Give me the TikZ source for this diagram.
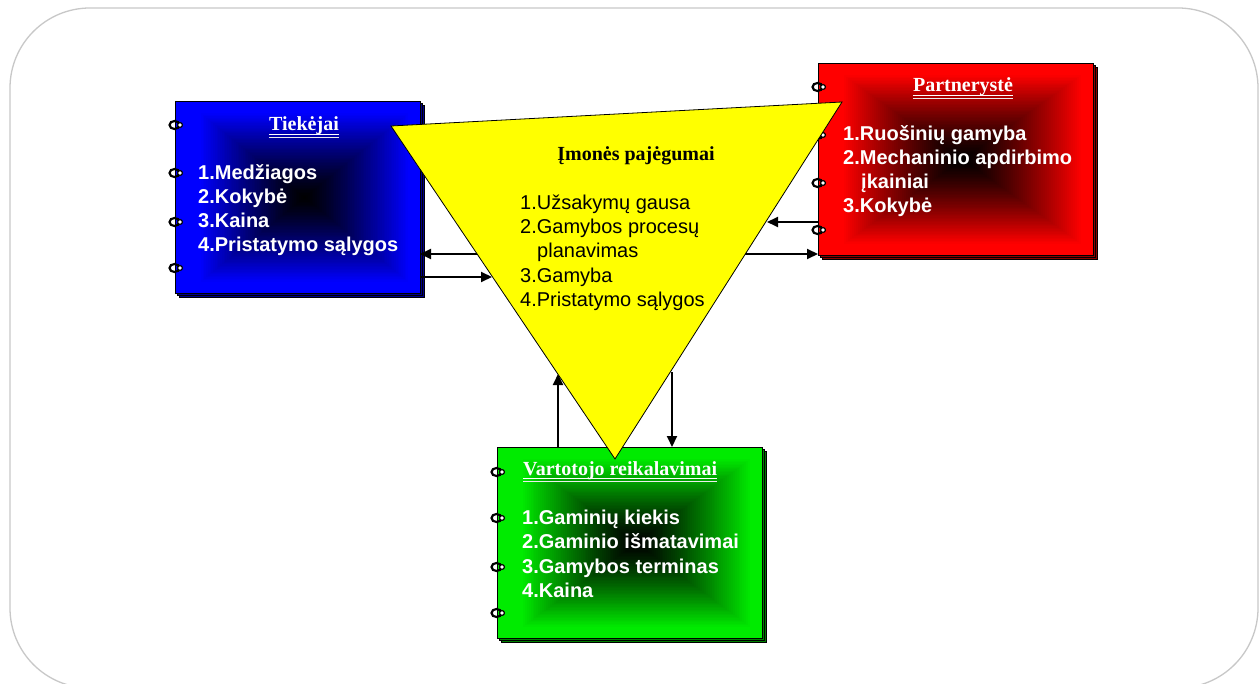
\documentclass[tikz,border=0pt]{standalone}
\usepackage{fontspec}
\setmainfont{Liberation Serif}
\setsansfont{Liberation Sans}
\usetikzlibrary{arrows.meta,calc}

\definecolor{nbblue}{RGB}{0,0,255}
\definecolor{nbred}{RGB}{255,0,0}
\definecolor{nbgreen}{RGB}{0,235,0}
\definecolor{triyellow}{RGB}{255,255,0}
\definecolor{framegray}{RGB}{200,200,200}

\tikzset{
  listtext/.style={font=\sffamily\bfseries\fontsize{20}{24}\selectfont, text=white, anchor=base west, inner sep=0pt},
  trilist/.style={font=\sffamily\fontsize{20}{24}\selectfont, text=black, anchor=base west, inner sep=0pt},
  nbtitle/.style={font=\bfseries\fontsize{20}{24}\selectfont, text=white, inner sep=0pt},
  arr/.style={line width=2pt, -{Triangle[length=11pt,width=10pt]}},
  ringstroke/.style={line width=2.2pt, black},
}

% A notebook card: stacked pages, outlined card and a rectangular
% path gradient from the card colour at the border to black at the centre.
% #1 name, #2 left, #3 top, #4 width, #5 height, #6 colour
\newcommand\notebookcard[6]{%
  \filldraw[fill=#6!55!black, draw=black, line width=0.6pt] (#2+4,#3+4) rectangle ++(#4,#5);
  \filldraw[fill=#6!55!black, draw=black, line width=0.6pt] (#2+2,#3+2) rectangle ++(#4,#5);
  \node[draw=black, line width=0.8pt, fill=#6, minimum width=#4pt, minimum height=#5pt,
        anchor=north west, inner sep=0pt, outer sep=0pt] (#1) at (#2,#3) {};
  \pgfmathsetmacro\gcx{#2+24+(#4-34)/2}
  \pgfmathsetmacro\gcy{#3+11+(#5-21)/2}
  \pgfmathsetmacro\ghw{(#4-34)/2}
  \pgfmathsetmacro\ghh{(#5-21)/2}
  \foreach \i in {0,...,60}{%
    \pgfmathsetmacro\gs{1-\i/60}%
    \pgfmathsetmacro\gp{100*(\gs^1.25)}%
    \fill[#6!\gp!black] (\gcx-\gs*\ghw,\gcy-\gs*\ghh) rectangle (\gcx+\gs*\ghw,\gcy+\gs*\ghh);
  }%
}

% binder ring on the left edge of a card
\newcommand\binderring[2]{%
  \draw[ringstroke] (#1-1.5,#2) ellipse (5pt and 4pt);
  \filldraw[fill=white, draw=black, line width=1.2pt] (#1+4,#2) circle (2.4pt);
}

\begin{document}
\begin{tikzpicture}[x=1pt, y=-1pt]
  \useasboundingbox (0,0) rectangle (1260,684);
  \fill[white] (0,0) rectangle (1260,684);

  % outer frame
  \draw[framegray, line width=1.3pt, rounded corners=80pt] (10,8) rectangle (1258,688);

  % cards
  \notebookcard{blue}{175}{101}{245}{192}{nbblue}
  \notebookcard{red}{818}{63}{275}{192}{nbred}
  \notebookcard{green}{497}{447}{265}{191}{nbgreen}

  % binder rings
  \foreach \yy in {125,173,222,268} {\binderring{176}{\yy}}
  \foreach \yy in {87,135,183,230} {\binderring{819}{\yy}}
  \foreach \yy in {472,518,567,613} {\binderring{498}{\yy}}

  % card titles
  \node[nbtitle, anchor=base] (blueT) at (304,131) {Tiekėjai};
  \node[nbtitle, anchor=base] (redT) at (963,92) {Partnerystė};
  \node[nbtitle, anchor=base west] (greenT) at (523,475) {Vartotojo reikalavimai};
  \foreach \t in {blueT,redT,greenT}{
    \draw[white, line width=1.4pt] ($(\t.base west)+(0,3.5)$) -- ($(\t.base east)+(0,3.5)$);
    \draw[white!85!gray, line width=0.7pt] ($(\t.base west)+(0,6.5)$) -- ($(\t.base east)+(0,6.5)$);
  }

  % card lists
  \node[listtext] (b1) at (198,180) {1.Medžiagos};
  \node[listtext] (b2) at (198,204) {2.Kokybė};
  \node[listtext] (b3) at (198,228) {3.Kaina};
  \node[listtext] (b4) at (198,252) {4.Pristatymo sąlygos};

  \node[listtext] (r1) at (843,141) {1.Ruošinių gamyba};
  \node[listtext] (r2) at (843,165) {2.Mechaninio apdirbimo};
  \node[listtext] (r2b) at (861,189) {įkainiai};
  \node[listtext] (r3) at (843,213) {3.Kokybė};

  \node[listtext] (g1) at (522,524) {1.Gaminių kiekis};
  \node[listtext] (g2) at (522,548) {2.Gaminio išmatavimai};
  \node[listtext] (g3) at (522,573) {3.Gamybos terminas};
  \node[listtext] (g4) at (522,597) {4.Kaina};

  % triangle corners and the points where connectors meet its sides
  \coordinate (tA) at (391,126);
  \coordinate (tB) at (842,102);
  \coordinate (tC) at (615,459);
  \coordinate (tLout) at (479,254);
  \coordinate (tLin) at (492,277);
  \coordinate (tRin) at (767,222);
  \coordinate (tRout) at (745,254);
  \coordinate (tBin) at (558,374);
  \coordinate (tBout) at (672,372);

  % connectors
  \draw[arr] (tLout) -- (blue.east |- tLout);
  \draw[arr] (blue.east |- tLin) -- (tLin);
  \draw[arr] (red.west |- tRin) -- (tRin);
  \draw[arr] (tRout) -- (red.west |- tRout);
  \draw[arr] (green.north -| tBin) -- (tBin);
  \draw[arr] (tBout) -- (green.north -| tBout);

  % central triangle
  \filldraw[fill=triyellow, draw=black, line width=0.8pt] (tA) -- (tB) -- (tC) -- cycle;

  \node[font=\bfseries\fontsize{20}{24}\selectfont, anchor=base, inner sep=0pt] (triT) at (636,161) {Įmonės pajėgumai};
  \node[trilist] (t1) at (520,210) {1.Užsakymų gausa};
  \node[trilist] (t2) at (520,234) {2.Gamybos procesų};
  \node[trilist] (t2b) at (537,258) {planavimas};
  \node[trilist] (t3) at (520,283) {3.Gamyba};
  \node[trilist] (t4) at (520,307) {4.Pristatymo sąlygos};
\end{tikzpicture}
\end{document}
